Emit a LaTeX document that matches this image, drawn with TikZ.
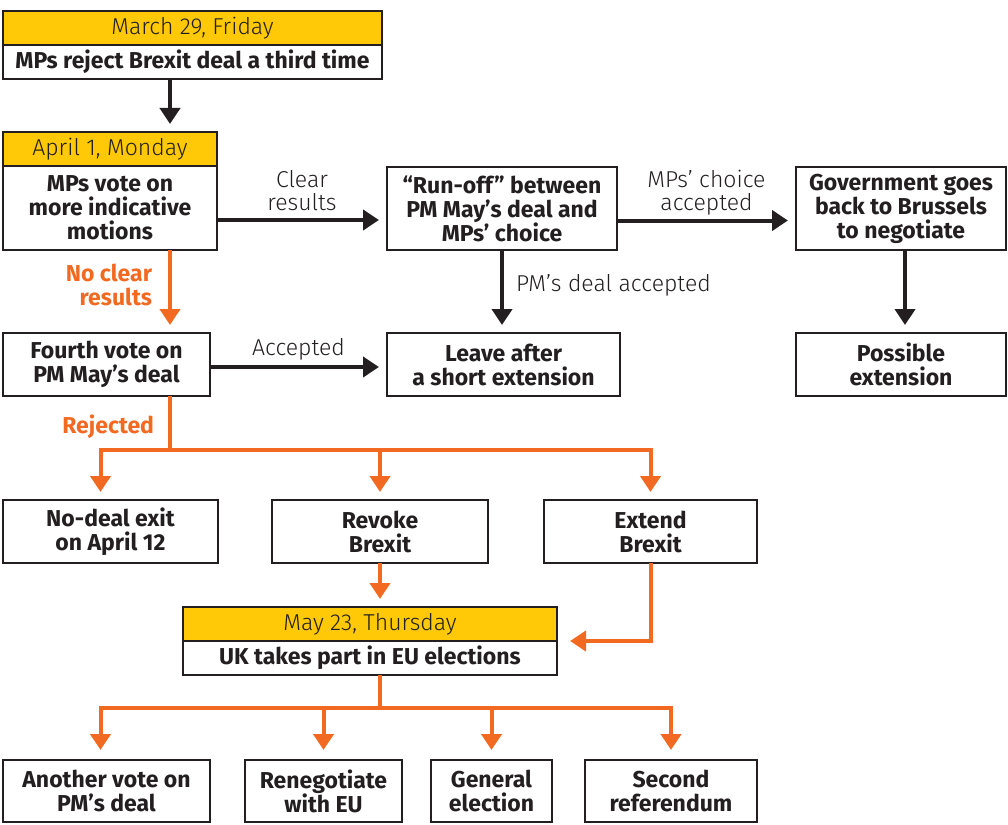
\documentclass[tikz,border=0pt]{standalone}
\usepackage{fontspec}
\setmainfont{Fira Sans}
\newfontfamily\lightfont[Ligatures=TeX]{Fira Sans Light}
\usetikzlibrary{positioning,arrows.meta}
\definecolor{dateyellow}{HTML}{FFC907}
\definecolor{branchorange}{HTML}{F26A21}
\definecolor{inkdark}{HTML}{231F20}

\tikzset{
  box/.style={draw=inkdark,line width=2.5pt,fill=white,align=center,text=inkdark,
    inner sep=0pt,outer sep=0pt,font=\fontsize{23}{24}\selectfont\bfseries},
  datebox/.style={box,fill=dateyellow,minimum height=34pt,font=\fontsize{23}{24}\selectfont\lightfont},
  arr/.style={draw=inkdark,line width=4pt,-{Triangle[width=20pt,length=16pt]},shorten >=8pt},
  oarr/.style={arr,draw=branchorange},
  oline/.style={draw=branchorange,line width=4pt},
  lbl/.style={font=\fontsize{23}{23}\selectfont\lightfont,text=inkdark,align=center,inner sep=0pt},
  olbl/.style={font=\fontsize{23}{24}\selectfont\bfseries,text=branchorange,align=right,inner sep=0pt}
}

\begin{document}
\begin{tikzpicture}[x=1pt,y=-1pt]
              \useasboundingbox (0,0) rectangle (1008,824);

              \node[box,minimum width=379pt,minimum height=34pt] (march) at (192.5,62) {MPs reject Brexit deal a third time};
              \node[datebox,minimum width=379pt,above=0pt of march] (marchdate) {March 29, Friday};
              \node[box,minimum width=214pt,minimum height=84pt] (april) at (110,208) {MPs vote on\\more indicative\\motions};
              \node[datebox,minimum width=214pt,above=0pt of april] (aprildate) {April 1, Monday};
              \node[box,minimum width=230pt,minimum height=83pt] (runoff) at (502,208.5) {``Run-off'' between\\PM May's deal and\\MPs' choice};
              \node[box,minimum width=210pt,minimum height=83pt] (govt) at (901,208.5) {Government goes\\back to Brussels\\to negotiate};
              \node[box,minimum width=207pt,minimum height=63pt] (fourth) at (106.5,364.5) {Fourth vote on\\PM May's deal};
              \node[box,minimum width=233pt,minimum height=63pt] (leave) at (503.5,364.5) {Leave after\\a short extension};
              \node[box,minimum width=210pt,minimum height=63pt] (possible) at (901,364.5) {Possible\\extension};
              \node[box,minimum width=215pt,minimum height=63pt] (nodeal) at (110.5,531.5) {No-deal exit\\on April 12};
              \node[box,minimum width=216pt,minimum height=63pt] (revoke) at (380,531.5) {Revoke\\Brexit};
              \node[box,minimum width=213pt,minimum height=63pt] (extend) at (650.5,531.5) {Extend\\Brexit};
              \node[box,minimum width=374pt,minimum height=34pt] (may) at (370,658) {UK takes part in EU elections};
              \node[datebox,minimum width=374pt,above=0pt of may] (maydate) {May 23, Thursday};
              \node[box,minimum width=207pt,minimum height=62pt] (another) at (106.5,791) {Another vote on\\PM's deal};
              \node[box,minimum width=157pt,minimum height=62pt] (reneg) at (323.5,791) {Renegotiate\\with EU};
              \node[box,minimum width=121pt,minimum height=62pt] (general) at (491.5,791) {General\\election};
              \node[box,minimum width=172pt,minimum height=62pt] (second) at (671,791) {Second\\referendum};

              %march>april
              \draw[arr] ([xshift=-22.5pt]march.south) -- ([xshift=-22.5pt]march.south |- aprildate.north);
              %april>runoff>govt
              \draw[arr] ([yshift=-12pt]april.east) -- node[lbl,above=7pt] {Clear\\results} ([yshift=-12pt]april.east -| runoff.west);
              \draw[arr] ([yshift=-12pt]runoff.east) -- node[lbl,above=3pt] {MPs' choice\\accepted} ([yshift=-12pt]runoff.east -| govt.west);
              %runoff>leave, govt>possible
              \draw[arr] (runoff.south) -- node[lbl,right=12pt,yshift=6pt] {PM's deal accepted} (runoff.south |- leave.north);
              \draw[arr] ([xshift=4pt]govt.south) -- ([xshift=4pt]possible.north);
              %fourth>leave
              \draw[arr] ([yshift=-2.5pt]fourth.east) -- node[lbl,above=5pt] {Accepted} ([yshift=-2.5pt]fourth.east -| leave.west);

              %april>fourth
              \draw[oarr] ([xshift=60pt]april.south) -- node[olbl,left=16pt,yshift=7pt] {No clear\\results} ([xshift=60pt]april.south |- fourth.north);
              %fourth>nodeal,revoke,extend
              \draw[oline] ([xshift=63.5pt]fourth.south) -- node[olbl,left=14pt,yshift=-4pt] {Rejected} ++(0,54) coordinate (rejected);
              \draw[oarr] (rejected) -| ([xshift=-10pt]nodeal.north);
              \draw[oarr] (rejected) -| (revoke.north);
              \draw[oarr] (rejected) -| (extend.north);
              %revoke,extend>may
              \draw[oarr] (revoke.south) -- (revoke.south |- maydate.north);
              \draw[oarr,shorten >=13pt] (extend.south) |- (maydate.south east);
              %may>bottom row
              \draw[oline] ([xshift=10pt]may.south) -- ++(0,33) coordinate (elections);
              \draw[oarr,shorten >=10pt] (elections) -| ([xshift=-6pt]another.north);
              \draw[oarr,shorten >=10pt] (elections) -| (reneg.north);
              \draw[oarr,shorten >=10pt] (elections) -| (general.north);
              \draw[oarr,shorten >=10pt] (elections) -| (second.north);
\end{tikzpicture}
\end{document}
